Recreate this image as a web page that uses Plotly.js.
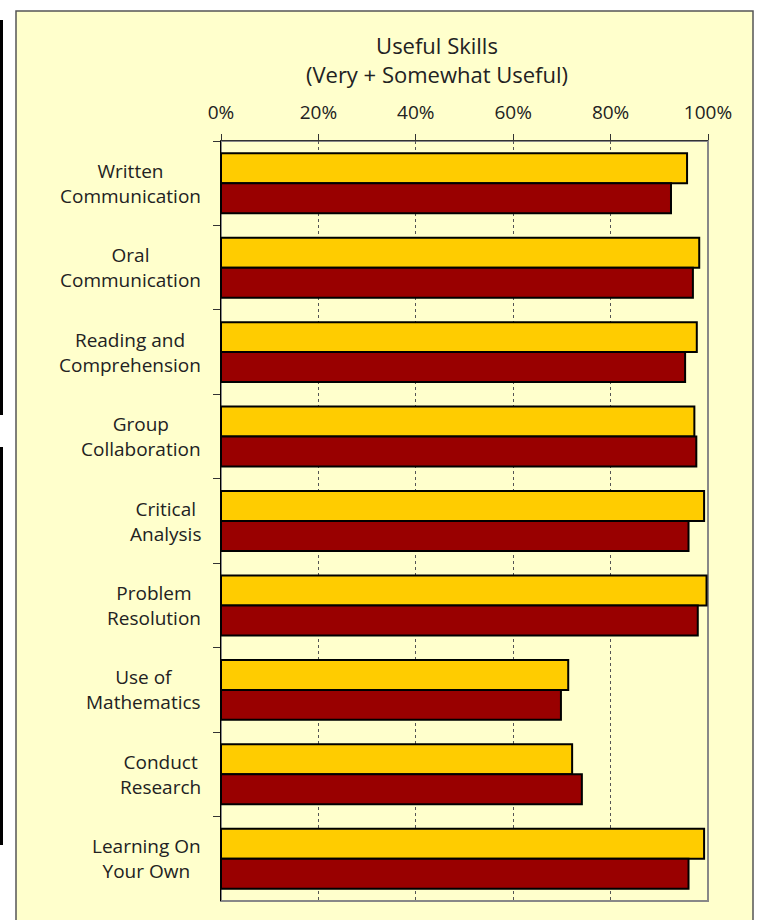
<!DOCTYPE html>
<html>
<head>
<meta charset="utf-8">
<script src="https://cdn.plot.ly/plotly-3.0.1.min.js"></script>
<style>html,body{margin:0;padding:0;background:#fff;}#chart{width:760px;height:920px;}</style>
</head>
<body>
<div id="chart"></div>
<script>
var categories = ["Written<br>Communication","Oral<br>Communication","Reading and<br>Comprehension","Group<br>Collaboration","Critical<br>Analysis","Problem<br>Resolution","Use of<br>Mathematics","Conduct<br>Research","Learning On<br>Your Own"];
var seriesGold = [95.7, 98.2, 97.7, 97.2, 99.2, 99.7, 71.3, 72.1, 99.2];
var seriesRed  = [92.4, 96.9, 95.3, 97.6, 96.0, 97.9, 69.8, 74.1, 96.0];
var tickVals = [0, 20, 40, 60, 80, 100];
var tickText = ["0%", "20%", "40%", "60%", "80%", "100%"];

var FONT = "Open Sans, Lato, DejaVu Sans, sans-serif";
var TXT = "#222";

var traces = [
  {type:"bar", orientation:"h", y:categories, x:seriesGold, name:"A",
   marker:{color:"#FFCC00", line:{color:"#000", width:2}}, hoverinfo:"x+y"},
  {type:"bar", orientation:"h", y:categories, x:seriesRed, name:"B",
   marker:{color:"#990000", line:{color:"#000", width:2}}, hoverinfo:"x+y"}
];

// geometry helpers (paper coordinates relative to plot area 221..708, 141..901)
function px(x){ return (x-221)/487; }
function py(y){ return (901-y)/760; }

var annotations = categories.map(function(c){
  return {xref:"x", yref:"y", x:0, y:c, text:c, showarrow:false,
    xanchor:"right", yanchor:"middle", align:"center", xshift:-18,
    font:{family:FONT, size:19, color:TXT}};
});

var layout = {
  width:760, height:920,
  margin:{l:221, r:52, t:141, b:19, pad:0},
  paper_bgcolor:"#ffffff",
  plot_bgcolor:"rgba(0,0,0,0)",
  showlegend:false,
  barmode:"group",
  bargap:0.29,
  bargroupgap:0,
  title:{text:"Useful Skills<br>(Very + Somewhat Useful)", x:px(437), xref:"paper", xanchor:"center",
         y:0.941, yref:"container", yanchor:"top",
         font:{family:FONT, size:22, color:TXT}},
  xaxis:{side:"top", range:[0,100], tickvals:tickVals, ticktext:tickText,
    ticks:"outside", ticklen:6, tickcolor:"#333", tickwidth:1, ticklabelstandoff:7,
    showgrid:true, gridcolor:"#555", griddash:"dot", gridwidth:1,
    showline:true, linecolor:"#333", linewidth:1.5,
    zeroline:false, fixedrange:true,
    tickfont:{family:FONT, size:19, color:TXT}},
  yaxis:{type:"category", autorange:"reversed", showticklabels:false,
    ticks:"outside", tickson:"boundaries", ticklen:7, tickcolor:"#333", tickwidth:1,
    showgrid:false, showline:true, linecolor:"#000", linewidth:1.5,
    zeroline:false, fixedrange:true},
  annotations:annotations,
  shapes:[
    {type:"rect", xref:"paper", yref:"paper", x0:px(16), x1:px(753), y0:py(930), y1:py(11),
     fillcolor:"#FFFFCC", line:{color:"#555", width:1.5}, layer:"below"},
    {type:"rect", xref:"paper", yref:"paper", x0:0, x1:1, y0:0, y1:1,
     fillcolor:"rgba(0,0,0,0)", line:{color:"#888", width:2}, layer:"below"},
    {type:"rect", xref:"paper", yref:"paper", x0:px(0), x1:px(3), y0:py(415), y1:py(20),
     fillcolor:"#000", line:{width:0}, layer:"below"},
    {type:"rect", xref:"paper", yref:"paper", x0:px(0), x1:px(3), y0:py(845), y1:py(447),
     fillcolor:"#000", line:{width:0}, layer:"below"}
  ]
};

Plotly.newPlot("chart", traces, layout, {displayModeBar:false, staticPlot:true});
</script>
</body>
</html>
